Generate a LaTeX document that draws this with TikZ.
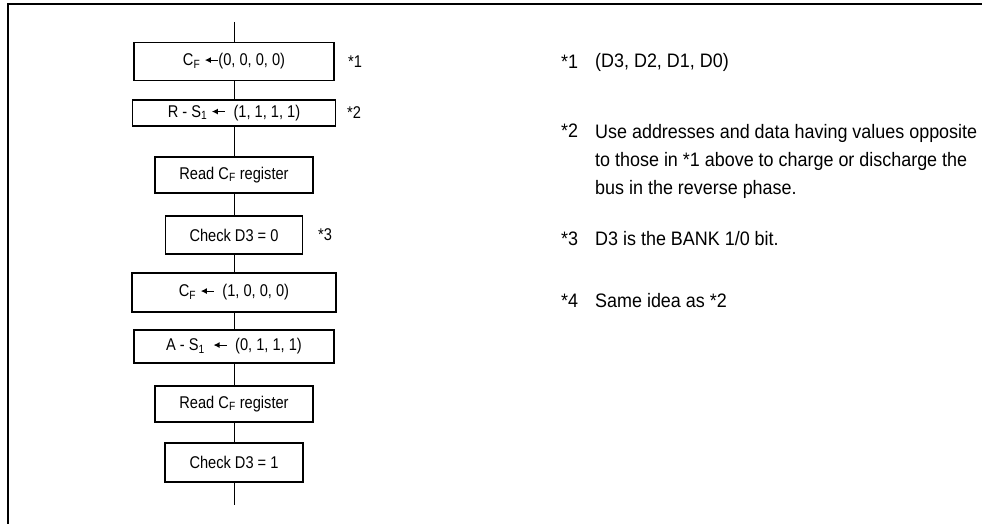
\documentclass[tikz,border=0pt]{standalone}
\usepackage{fontspec}
\usetikzlibrary{arrows.meta}
\setmainfont{Liberation Sans}[FakeStretch=0.92]
\newfontfamily\boxfont{Liberation Sans}[FakeStretch=0.86]
\newcommand\larr{\tikz[baseline=-0.65ex]\draw[line width=1.1pt,-{Latex[length=6pt,width=6pt]}] (13pt,0pt) -- (0pt,0pt);}
\begin{document}
\begin{tikzpicture}[x=1pt,y=-1pt,
  every node/.style={inner sep=0pt, font=\boxfont\fontsize{17}{19}\selectfont},
  stepbox/.style={draw, line width=1.3pt},
  starmark/.style={anchor=west},
  remark/.style={anchor=west, font=\fontsize{19.5}{28}\selectfont}]
\useasboundingbox (0,0) rectangle (982,524);
% frame
\draw[line width=2pt] (8,524) -- (8,4) -- (982,4);
% flow
\coordinate (top) at (234,22);
\coordinate (end) at (234,505);
\node[stepbox, minimum width=200pt, minimum height=38pt] (clr)   at (234,61.5) {C\textsubscript{F} \larr(0, 0, 0, 0)};
\node[stepbox, minimum width=203pt, minimum height=26pt] (rset)  at (234,113)  {R - S\textsubscript{1} \larr\ \ (1, 1, 1, 1)};
\node[stepbox, minimum width=158pt, minimum height=36pt] (rd0)   at (234,175)  {Read C\textsubscript{F} register};
\node[stepbox, minimum width=137pt, minimum height=38pt] (chk0)  at (234,235)  {Check D3 = 0};
\node[stepbox, minimum width=204pt, minimum height=39pt] (set)   at (234,292.5){C\textsubscript{F} \larr\ \ (1, 0, 0, 0)};
\node[stepbox, minimum width=200pt, minimum height=33pt] (aset)  at (234,346.5){A - S\textsubscript{1} \ \larr\ \ (0, 1, 1, 1)};
\node[stepbox, minimum width=158pt, minimum height=36pt] (rd1)   at (234,404)  {Read C\textsubscript{F} register};
\node[stepbox, minimum width=138pt, minimum height=39pt] (chk1)  at (234,462.5){Check D3 = 1};
\draw (top) -- (clr) (clr) -- (rset) (rset) -- (rd0) (rd0) -- (chk0)
  (chk0) -- (set) (set) -- (aset) (aset) -- (rd1) (rd1) -- (chk1) (chk1) -- (end);
% marks
\node[starmark] (m1) at (348,62)  {*1};
\node[starmark] (m2) at (347,113) {*2};
\node[starmark] (m3) at (318,235) {*3};
% notes
\node[remark] (k1) at (561,62)  {*1};
\node[remark] (n1) at (595,62)  {(D3, D2, D1, D0)};
\node[remark] (k2) at (561,131) {*2};
\node[remark, anchor=north west, align=left] (n2) at (595,124)
  {Use addresses and data having values opposite\\
   to those in *1 above to charge or discharge the\\
   bus in the reverse phase.};
\node[remark] (k3) at (561,239) {*3};
\node[remark] (n3) at (595,239) {D3 is the BANK 1/0 bit.};
\node[remark] (k4) at (561,301) {*4};
\node[remark] (n4) at (595,301) {Same idea as *2};
\end{tikzpicture}
\end{document}
